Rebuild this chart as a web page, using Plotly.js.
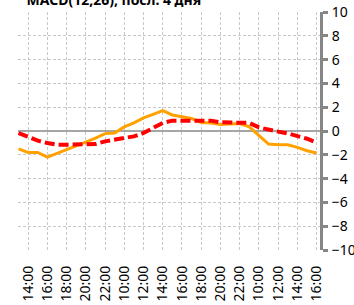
<!DOCTYPE html>
<html>
<head>
<meta charset="utf-8">
<script src="https://cdn.plot.ly/plotly-3.0.1.min.js"></script>
<style>html,body{margin:0;padding:0;background:#fff;}#chart{width:354px;height:305px;}</style>
</head>
<body>
<div id="chart"></div>
<script>
// Hourly points over 3 trading days (13:00 day1 ... 16:00 day3)
var pointIndex = [0,1,2,3,4,5,6,7,8,9,10,11,12,13,14,15,16,17,18,19,20,21,22,23,24,25,26,27,28,29,30,31];
var tickIndex = [1,3,5,7,9,11,13,15,17,19,21,23,25,27,29,31];
var tickLabels = ["14:00","16:00","18:00","20:00","22:00","10:00","12:00","14:00","16:00","18:00","20:00","22:00","10:00","12:00","14:00","16:00"];
var macdLine = [-1.5,-1.8,-1.8,-2.2,-1.88,-1.57,-1.29,-0.93,-0.59,-0.22,-0.17,0.34,0.68,1.1,1.4,1.72,1.35,1.22,1.05,0.72,0.68,0.55,0.6,0.62,0.35,-0.35,-1.1,-1.15,-1.15,-1.38,-1.66,-1.85];
var signalLine = [-0.17,-0.53,-0.81,-1.01,-1.15,-1.15,-1.15,-1.15,-1.1,-0.87,-0.73,-0.59,-0.45,-0.17,0.25,0.68,0.87,0.87,0.87,0.87,0.87,0.73,0.73,0.73,0.68,0.3,0.1,-0.05,-0.2,-0.42,-0.65,-0.97];
var yTicks = [-10,-8,-6,-4,-2,0,2,4,6,8,10];

var traces = [
  {x: pointIndex, y: macdLine, type: 'scatter', mode: 'lines',
   line: {color: '#FFA200', width: 3}, hoverinfo: 'none'},
  {x: pointIndex, y: signalLine, type: 'scatter', mode: 'lines',
   line: {color: '#FF0000', width: 4, dash: '10px,4px'}, hoverinfo: 'none'}
];

var layout = {
  width: 354, height: 305,
  margin: {l: 18, r: 34, t: 12, b: 55},
  paper_bgcolor: '#fff', plot_bgcolor: '#fff',
  showlegend: false,
  font: {family: 'Noto Sans, sans-serif', color: '#000'},
  title: {text: '<b>MACD(12,26), посл. 4 дня</b>', font: {size: 14, family: 'Noto Sans, sans-serif', color: '#000'},
          x: 0.075, xanchor: 'left', xref: 'container', y: 1, yanchor: 'middle', yref: 'container', pad: {t: 0, b: 0}},
  xaxis: {
    range: [-0.05, 31.35],
    tickmode: 'array', tickvals: tickIndex, ticktext: tickLabels,
    tickangle: -90, tickfont: {size: 14}, ticklabelstandoff: 12,
    showgrid: true, gridcolor: '#c8c8c8', gridwidth: 1, griddash: '3px,2px',
    showline: false, ticks: '', zeroline: false, fixedrange: true
  },
  yaxis: {
    side: 'right', range: [-10, 10],
    tickmode: 'array', tickvals: yTicks,
    tickfont: {size: 14}, ticklabelstandoff: 1,
    showgrid: true, gridcolor: '#c8c8c8', gridwidth: 1, griddash: '3px,2px',
    zeroline: true, zerolinecolor: '#a6a6a6', zerolinewidth: 2,
    showline: true, linecolor: '#868686', linewidth: 3,
    ticks: 'outside', ticklen: 5, tickwidth: 3, tickcolor: '#868686',
    fixedrange: true
  }
};

Plotly.newPlot('chart', traces, layout, {displayModeBar: false, staticPlot: true});
</script>
</body>
</html>
